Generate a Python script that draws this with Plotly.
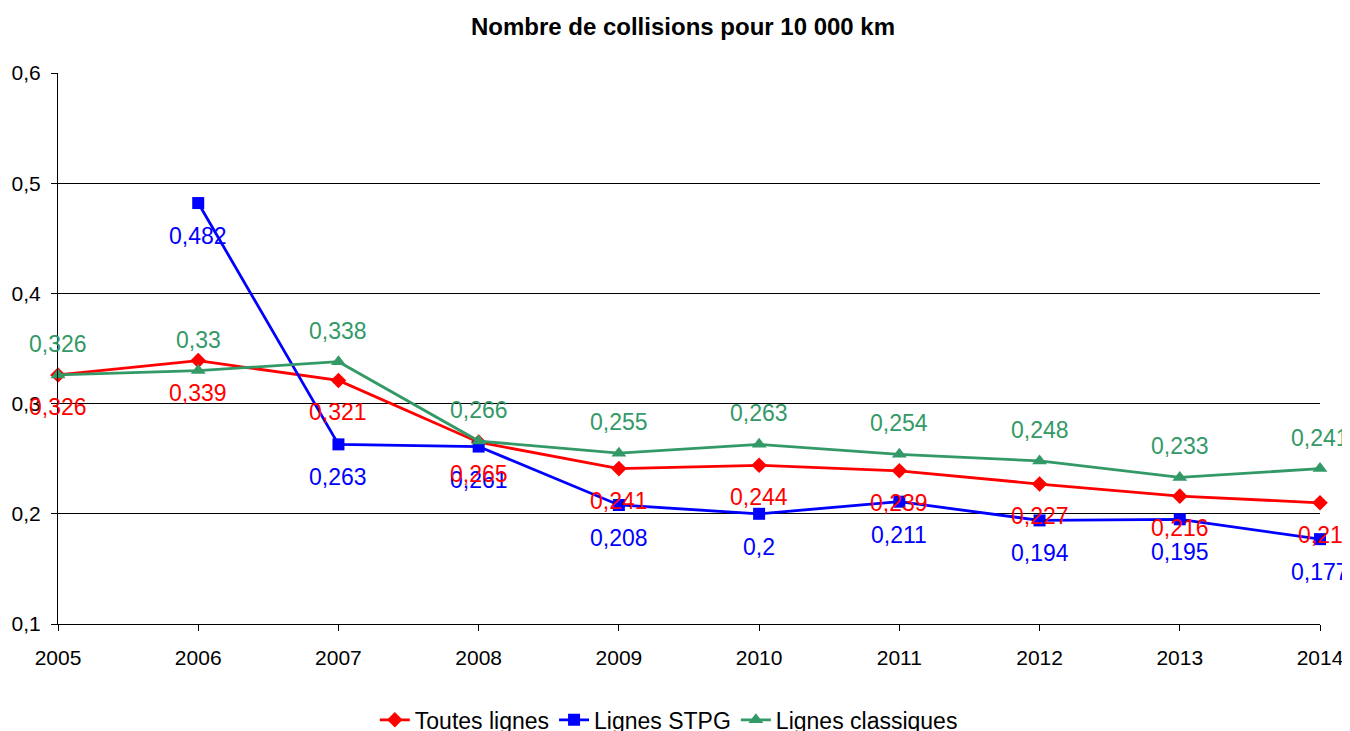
import plotly.graph_objects as go

years = [2005, 2006, 2007, 2008, 2009, 2010, 2011, 2012, 2013, 2014]
toutes = [0.326, 0.339, 0.321, 0.265, 0.241, 0.244, 0.239, 0.227, 0.216, 0.21]
stpg_years = [2006, 2007, 2008, 2009, 2010, 2011, 2012, 2013, 2014]
stpg = [0.482, 0.263, 0.261, 0.208, 0.2, 0.211, 0.194, 0.195, 0.177]
classiques = [0.326, 0.33, 0.338, 0.266, 0.255, 0.263, 0.254, 0.248, 0.233, 0.241]

RED, BLUE, GREEN = "#FF0000", "#0000FF", "#339966"
FONT = "Liberation Sans, Arial, sans-serif"

def fmt(v):
    return ("%g" % v).replace(".", ",")

fig = go.Figure()
fig.add_trace(go.Scatter(
    x=years, y=toutes, name="Toutes lignes", mode="lines+markers",
    line=dict(color=RED, width=2.8),
    marker=dict(symbol="diamond", size=12, color=RED), cliponaxis=False))
fig.add_trace(go.Scatter(
    x=stpg_years, y=stpg, name="Lignes STPG", mode="lines+markers",
    line=dict(color=BLUE, width=2.8),
    marker=dict(symbol="square", size=12, color=BLUE), cliponaxis=False))
fig.add_trace(go.Scatter(
    x=years, y=classiques, name="Lignes classiques", mode="lines+markers",
    line=dict(color=GREEN, width=2.8),
    marker=dict(symbol="triangle-up", size=13, color=GREEN), cliponaxis=False))

annotations = []
for xs, ys, color, shift in [(years, classiques, GREEN, 31),
                             (stpg_years, stpg, BLUE, -33),
                             (years, toutes, RED, -32)]:
    for xv, yv in zip(xs, ys):
        annotations.append(dict(x=xv, y=yv, xref="x", yref="y", text=fmt(yv),
                                showarrow=False, yshift=shift, xanchor="center",
                                yanchor="middle",
                                font=dict(color=color, size=23, family=FONT)))

fig.update_layout(
    width=1350, height=731,
    paper_bgcolor="white", plot_bgcolor="white",
    separators=", ",
    font=dict(family=FONT, size=20, color="black"),
    title=dict(text="<b>Nombre de collisions pour 10 000 km</b>", x=0.5, xanchor="center",
               y=0.974, yanchor="middle", font=dict(size=24, color="black", family=FONT)),
    margin=dict(l=50, r=38, t=65, b=115, autoexpand=False),
    showlegend=True,
    legend=dict(orientation="h", x=0.484, xanchor="center", y=-0.174, yanchor="middle",
                font=dict(size=23, family=FONT), tracegroupgap=0),
    annotations=annotations,
    xaxis=dict(range=[2005, 2014], tickmode="array", tickvals=years,
               ticktext=[str(y) for y in years], showgrid=False,
               showline=True, linecolor="black", linewidth=1, automargin=False,
               ticks="outside", ticklen=6, tickcolor="black", zeroline=False,
               ticklabelstandoff=9, tickfont=dict(size=21)),
    yaxis=dict(range=[0.1, 0.6], dtick=0.1, tick0=0.1, showgrid=True,
               gridcolor="black", gridwidth=1, showline=True, linecolor="black",
               linewidth=1, ticks="outside", ticklen=6, tickcolor="black",
               automargin=False, ticklabelstandoff=6,
               zeroline=False, tickformat="~g", tickfont=dict(size=21)),
)

fig.write_html("out.html")
